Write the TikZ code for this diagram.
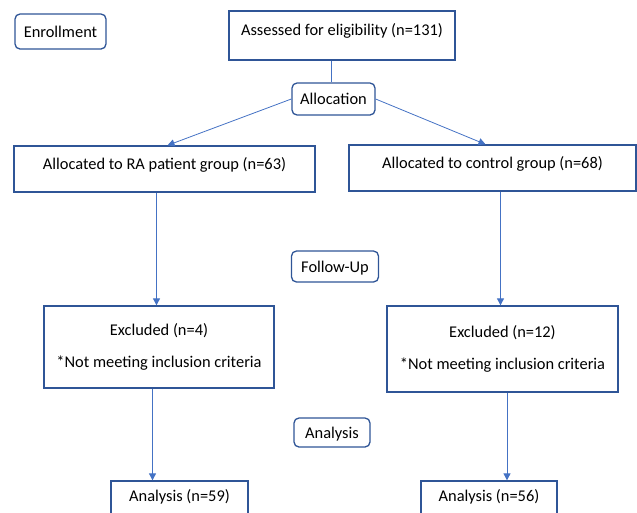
\documentclass[tikz,border=0pt]{standalone}
\usepackage{fontspec}
\setmainfont{Carlito}
\usetikzlibrary{arrows.meta}
\definecolor{boxblue}{HTML}{2F5597}
\definecolor{lineblue}{HTML}{4472C4}
\begin{document}
\begin{tikzpicture}[x=1pt,y=-1pt, font=\fontsize{16.4}{16}\selectfont,
  box/.style={draw=boxblue, line width=1.3pt, fill=white, inner sep=0pt, text height=10pt, text depth=10pt},
  mbox/.style={draw=boxblue, line width=1.3pt, fill=white, inner sep=0pt, align=center},
  lbl/.style={draw=boxblue, line width=1.3pt, fill=white, rounded corners=5pt, inner sep=0pt, text height=11pt, text depth=0pt},
  conn/.style={draw=lineblue, line width=0.8pt},
  arr/.style={conn, -{Triangle[width=7pt,length=7pt]}}]
\useasboundingbox (0,0) rectangle (637,512);
\clip (0,0) rectangle (637,512);
% nodes
\node[lbl, minimum width=91pt, minimum height=35pt] (enr) at (60.5,31.5) {Enrollment};
\node[box, minimum width=226pt, minimum height=49pt] (assess) at (342,35.5) {Assessed for eligibility (n=131)};
\node[lbl, minimum width=83pt, minimum height=32pt] (alloc) at (333.5,99) {Allocation};
\node[box, minimum width=301pt, minimum height=46pt] (ra) at (164.5,169) {Allocated to RA patient group (n=63)};
\node[box, minimum width=287pt, minimum height=46pt] (ctrl) at (492.5,168) {Allocated to control group (n=68)};
\node[lbl, minimum width=87pt, minimum height=31pt] (fu) at (335,266.5) {Follow-Up};
\node[mbox, minimum width=230pt, minimum height=82pt] (exL) at (159,347) {Excluded (n=4)\\[16pt]*Not meeting inclusion criteria};
\node[mbox, minimum width=231pt, minimum height=86pt] (exR) at (502.5,349) {Excluded (n=12)\\[16pt]*Not meeting inclusion criteria};
\node[lbl, minimum width=76pt, minimum height=29pt] (ana) at (332,432.5) {Analysis};
\node[box, minimum width=137pt, minimum height=40pt] (anL) at (179.5,501) {Analysis (n=59)};
\node[box, minimum width=136pt, minimum height=40pt] (anR) at (489,501) {Analysis (n=56)};
% line positions
\coordinate (x1) at (331,0);
\coordinate (x2) at (156.5,0);
\coordinate (x3) at (152.5,0);
\coordinate (x4) at (500.5,0);
\coordinate (x5) at (507,0);
% connectors
\draw[conn] (assess.south -| x1) -- (alloc.north -| x1);
\draw[arr] (alloc.west) -- ([xshift=3pt]ra.north);
\draw[arr] (alloc.east) -- ([xshift=-7pt]ctrl.north);
\draw[arr] (ra.south -| x2) -- (exL.north -| x2);
\draw[arr] (ctrl.south -| x4) -- (exR.north -| x4);
\draw[arr] (exL.south -| x3) -- (anL.north -| x3);
\draw[arr] (exR.south -| x5) -- (anR.north -| x5);
\end{tikzpicture}
\end{document}
